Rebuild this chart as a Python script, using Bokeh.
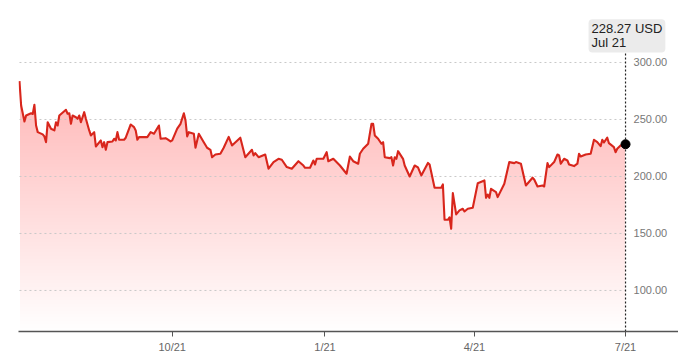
import numpy as np
import pandas as pd
from bokeh.plotting import figure
from bokeh.models import Range1d, Label, FixedTicker, ColumnDataSource
from bokeh.core.properties import value
from bokeh.embed import file_html
from bokeh.resources import INLINE

dates = [
    "2020-07-21", "2020-07-22", "2020-07-24", "2020-07-25", "2020-07-28", "2020-07-29", "2020-07-30",
    "2020-07-31", "2020-08-01", "2020-08-04", "2020-08-05", "2020-08-06", "2020-08-07", "2020-08-09",
    "2020-08-11", "2020-08-12", "2020-08-13", "2020-08-14", "2020-08-18", "2020-08-19", "2020-08-20",
    "2020-08-21", "2020-08-22", "2020-08-24", "2020-08-25", "2020-08-26", "2020-08-27", "2020-08-29",
    "2020-08-30", "2020-09-01", "2020-09-02", "2020-09-04", "2020-09-05", "2020-09-08", "2020-09-09",
    "2020-09-10", "2020-09-11", "2020-09-12", "2020-09-15", "2020-09-16", "2020-09-17", "2020-09-18",
    "2020-09-19", "2020-09-22", "2020-09-23", "2020-09-26", "2020-09-28", "2020-09-29", "2020-09-30",
    "2020-10-01", "2020-10-06", "2020-10-08", "2020-10-10", "2020-10-13", "2020-10-14", "2020-10-17",
    "2020-10-18", "2020-10-20", "2020-10-21", "2020-10-24", "2020-10-26", "2020-10-28", "2020-10-29",
    "2020-10-30", "2020-10-31", "2020-11-03", "2020-11-04", "2020-11-06", "2020-11-09", "2020-11-11",
    "2020-11-13", "2020-11-14", "2020-11-16", "2020-11-19", "2020-11-21", "2020-11-24", "2020-11-26",
    "2020-12-01", "2020-12-04", "2020-12-08", "2020-12-09", "2020-12-10", "2020-12-12", "2020-12-16",
    "2020-12-18", "2020-12-21", "2020-12-24", "2020-12-26", "2020-12-29", "2021-01-01", "2021-01-05",
    "2021-01-08", "2021-01-09", "2021-01-12", "2021-01-14", "2021-01-15", "2021-01-16", "2021-01-20",
    "2021-01-22", "2021-01-23", "2021-01-26", "2021-01-30", "2021-02-03", "2021-02-05", "2021-02-07",
    "2021-02-10", "2021-02-11", "2021-02-13", "2021-02-16", "2021-02-18", "2021-02-19", "2021-02-20",
    "2021-02-22", "2021-02-24", "2021-02-25", "2021-02-26", "2021-03-01", "2021-03-02", "2021-03-03",
    "2021-03-04", "2021-03-05", "2021-03-06", "2021-03-09", "2021-03-10", "2021-03-13", "2021-03-16",
    "2021-03-18", "2021-03-20", "2021-03-24", "2021-03-25", "2021-03-28", "2021-04-01", "2021-04-02",
    "2021-04-03", "2021-04-05", "2021-04-06", "2021-04-07", "2021-04-08", "2021-04-10", "2021-04-12",
    "2021-04-14", "2021-04-15", "2021-04-17", "2021-04-20", "2021-04-23", "2021-04-27", "2021-04-28",
    "2021-04-29", "2021-04-30", "2021-05-01", "2021-05-04", "2021-05-05", "2021-05-09", "2021-05-12",
    "2021-05-15", "2021-05-16", "2021-05-19", "2021-05-22", "2021-05-26", "2021-05-27", "2021-05-29",
    "2021-06-01", "2021-06-02", "2021-06-04", "2021-06-05", "2021-06-08", "2021-06-10", "2021-06-11",
    "2021-06-12", "2021-06-14", "2021-06-16", "2021-06-17", "2021-06-20", "2021-06-22", "2021-06-23",
    "2021-06-24", "2021-06-27", "2021-06-30", "2021-07-02", "2021-07-04", "2021-07-06", "2021-07-07",
    "2021-07-08", "2021-07-10", "2021-07-11", "2021-07-14", "2021-07-15", "2021-07-16", "2021-07-18",
    "2021-07-21",
]

prices = [
    283.6, 262.3, 248.3, 253.5, 255.5, 254.8, 262.9,
    244.7, 238.9, 236.9, 235.1, 230.1, 247.6, 241.9,
    240.4, 247.6, 244.7, 253.5, 258.5, 255.0, 255.5,
    246.2, 253.5, 252.0, 250.6, 253.5, 247.6, 256.4,
    250.6, 240.4, 236.0, 238.9, 226.3, 231.6, 225.7,
    230.1, 223.4, 230.1, 230.7, 233.1, 231.6, 238.9,
    232.2, 232.2, 234.0, 245.6, 243.3, 240.4, 232.2,
    234.5, 234.5, 238.9, 237.5, 244.7, 233.1, 233.6,
    232.7, 230.7, 231.6, 241.9, 246.2, 255.5, 249.1,
    235.1, 238.9, 237.5, 225.2, 237.5, 230.1, 225.2,
    223.4, 216.9, 219.3, 219.9, 225.2, 234.7, 227.2,
    234.0, 216.9, 223.4, 218.4, 220.5, 216.9, 219.3,
    206.8, 212.6, 215.5, 214.7, 208.2, 206.8, 213.4,
    209.6, 207.6, 207.6, 214.0, 210.5, 215.5, 215.5,
    221.3, 213.4, 215.5, 209.6, 202.4, 217.5, 213.4,
    211.2, 219.9, 224.3, 228.7, 246.2, 246.2, 236.0,
    233.1, 228.7, 230.1, 216.9, 216.1, 216.9, 209.6,
    216.9, 215.5, 222.2, 215.5, 209.6, 200.0, 209.6,
    207.9, 200.9, 211.9, 210.5, 190.1, 190.1, 193.0,
    162.0, 162.0, 164.1, 154.1, 185.4, 166.7, 170.2,
    171.7, 169.3, 171.7, 172.6, 194.1, 196.5, 181.3,
    184.2, 181.3, 189.2, 186.3, 181.9, 193.6, 212.6,
    211.7, 212.6, 211.2, 192.1, 198.9, 197.4, 191.2,
    192.1, 191.2, 211.7, 208.2, 212.6, 219.3, 218.4,
    211.2, 215.5, 214.0, 210.5, 209.1, 211.2, 219.9,
    217.5, 219.3, 219.9, 232.2, 230.1, 226.6, 232.2,
    229.8, 234.0, 229.2, 225.7, 221.3, 224.3, 227.2,
    228.27,
]

currency = "USD"
x_tick_dates = ["2020-10-21", "2021-01-21", "2021-04-21", "2021-07-21"]
x_tick_labels = ["10/21", "1/21", "4/21", "7/21"]
y_ticks = [100, 150, 200, 250, 300]
y_tick_labels = ["100.00", "150.00", "200.00", "250.00", "300.00"]

FONT = "Liberation Sans"
LINE_RED = "#d8261c"

x = pd.to_datetime(dates)
y = np.array(prices)
x_first = x[0]
x_last = x[-1]

Y0, Y1 = 64.0, 345.6
x_start = x_first - pd.Timedelta(hours=14)
x_end = x_first + pd.Timedelta(days=396.9)

p = figure(
    x_axis_type="datetime",
    frame_width=660, frame_height=321,
    min_border_left=18, min_border_right=0, min_border_top=10, min_border_bottom=0,
    x_range=Range1d(x_start, x_end), y_range=Range1d(Y0, Y1),
    output_backend="svg", toolbar_location=None,
)
p.outline_line_color = None
p.grid.visible = False
p.yaxis.visible = False
p.background_fill_color = "white"
p.border_fill_color = "white"

# gradient fill built from stacked translucent layers
levels = np.arange(Y0, 292, 3.0)
for L in levels:
    p.varea(x=x, y1=np.minimum(y, L), y2=y, fill_color="#e02a1e", fill_alpha=0.004)

# dotted horizontal grid lines up to the last point
p.segment(x0=[x_first] * len(y_ticks), x1=[x_last] * len(y_ticks), y0=y_ticks, y1=y_ticks,
          line_color="#c8c8c8", line_width=1, line_dash="2 3")

# right-side value labels
lab_src = ColumnDataSource(dict(x=[x_last] * len(y_ticks), y=y_ticks, t=y_tick_labels))
p.text(x="x", y="y", text="t", source=lab_src, x_offset=8, text_align="left",
       text_baseline="middle", text_font=value(FONT), text_font_size="11px", text_color="#777777")

# crosshair
p.segment(x0=[x_last], x1=[x_last], y0=[Y0], y1=[308.0], line_color="#222222",
          line_width=1.2, line_dash="2 2")

p.line(x=x, y=y, line_color=LINE_RED, line_width=2.1, line_join="round")
p.scatter(x=[x_last], y=[y[-1]], size=9, fill_color="black", line_color="black")

tip = Label(
    x=x_last.value / 1e6, y=338.0, x_offset=-37,
    text=f"{prices[-1]:.2f} {currency}\n{x_last.strftime('%b %d')}",
    text_baseline="top", text_align="left", text_font=FONT, text_font_size="13px",
    text_color="#222222", text_line_height=0.95,
    background_fill_color="#ebebeb", background_fill_alpha=1.0,
    padding=dict(left=3, right=3, top=2, bottom=2), border_radius=4,
)
p.add_layout(tip)

tick_ms = [pd.Timestamp(d).value // 10**6 for d in x_tick_dates]
p.xaxis.ticker = FixedTicker(ticks=tick_ms)
p.xaxis.major_label_overrides = {t: l for t, l in zip(tick_ms, x_tick_labels)}
p.xaxis.axis_line_color = "#555555"
p.xaxis.axis_line_width = 1.5
p.xaxis.major_tick_line_color = "#555555"
p.xaxis.major_tick_out = 5
p.xaxis.major_tick_in = 0
p.xaxis.minor_tick_line_color = None
p.xaxis.major_label_standoff = 4
p.xaxis.major_label_text_font = FONT
p.xaxis.major_label_text_font_size = "11px"
p.xaxis.major_label_text_color = "#666666"

open("out.html", "w").write(file_html(p, INLINE))
